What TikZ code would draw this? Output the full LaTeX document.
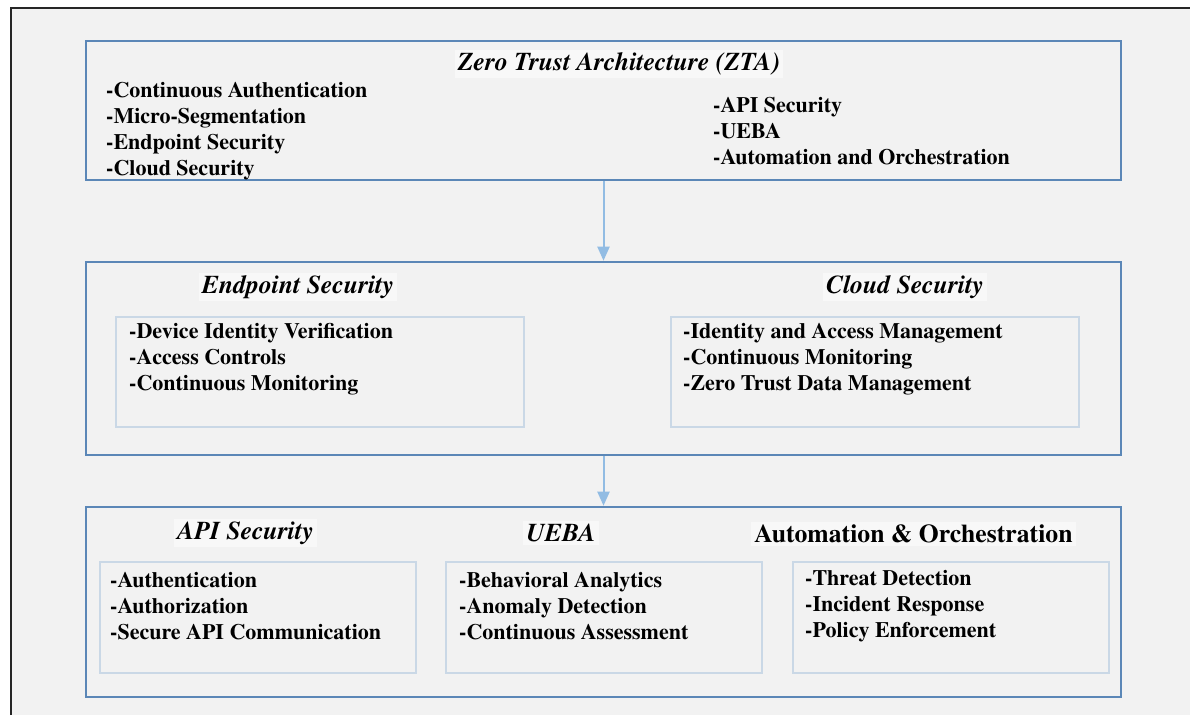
\documentclass[tikz,border=0pt]{standalone}
\usepackage[T1]{fontenc}
\renewcommand{\rmdefault}{ptm}
\usetikzlibrary{arrows.meta}
\definecolor{pagegray}{HTML}{F2F2F2}
\definecolor{frameblue}{HTML}{5B87B7}
\definecolor{innerblue}{HTML}{CAD8E6}
\definecolor{arrowblue}{HTML}{92BCE3}
\definecolor{titlebg}{HTML}{F8F8F8}
\begin{document}
\begin{tikzpicture}[x=1pt,y=-1pt,
  every node/.style={font=\fontsize{22}{26}\selectfont\bfseries, text=black},
  layerbox/.style={draw=frameblue, line width=2.6pt, fill=pagegray, minimum width=1035pt, inner sep=0pt},
  groupbox/.style={draw=innerblue, line width=1.6pt, fill=pagegray, inner sep=0pt},
  heading/.style={font=\fontsize{25.7}{30}\selectfont\bfseries\itshape, fill=titlebg, inner sep=3pt},
  plainheading/.style={font=\fontsize{25.7}{30}\selectfont\bfseries, fill=titlebg, inner sep=3pt},
  items/.style={align=left, anchor=west, inner sep=0pt},
  flow/.style={draw=arrowblue, line width=2pt, -{Triangle[width=12pt,length=14pt]}}
]
% page and frame
\useasboundingbox (0,0) rectangle (1190,715);
\fill[white] (0,0) rectangle (1190,715);
\fill[pagegray] (11,8) rectangle (1190,715);
\draw[black!85, line width=2.6pt] (11,715) -- (11,8) -- (1190,8);

% layer 1: Zero Trust Architecture
\node[layerbox, minimum height=139pt] (zta) at (603.5,110.5) {};
\node[heading] (ztaT) at (619,64) {Zero Trust Architecture (ZTA)};
\node[items] (ztaL) at (106,131) {-Continuous Authentication\\-Micro-Segmentation\\-Endpoint Security\\-Cloud Security};
\node[items] (ztaR) at (713,131) {-API Security\\-UEBA\\-Automation and Orchestration};

% layer 2: endpoint and cloud security
\node[layerbox, minimum height=193pt] (mid) at (603.5,358.5) {};
\node[groupbox, minimum width=408pt, minimum height=110pt] (endp) at (320,372) {};
\node[groupbox, minimum width=408pt, minimum height=110pt] (cloud) at (875,372) {};
\node[heading] (endpT) at (298,287) {Endpoint Security};
\node[heading] (cloudT) at (905,287) {Cloud Security};
\node[items] (endpL) at (129,359) {-Device Identity Verification\\-Access Controls\\-Continuous Monitoring};
\node[items] (cloudL) at (683,359) {-Identity and Access Management\\-Continuous Monitoring\\-Zero Trust Data Management};

% layer 3: API security, UEBA, automation
\node[layerbox, minimum height=190pt] (low) at (603.5,602) {};
\node[groupbox, minimum width=316pt, minimum height=111pt] (api) at (258,617.5) {};
\node[groupbox, minimum width=316pt, minimum height=111pt] (ueba) at (604,617.5) {};
\node[groupbox, minimum width=316pt, minimum height=111pt] (auto) at (951,617.5) {};
\node[heading] (apiT) at (245.5,533) {API Security};
\node[heading] (uebaT) at (561,533) {UEBA};
\node[plainheading] (autoT) at (913.5,534) {Automation \& Orchestration};
\node[items] (apiL) at (110,606) {-Authentication\\-Authorization\\-Secure API Communication};
\node[items] (uebaL) at (459,606) {-Behavioral Analytics\\-Anomaly Detection\\-Continuous Assessment};
\node[items] (autoL) at (805,606) {-Threat Detection\\-Incident Response\\-Policy Enforcement};

% flow between layers
\draw[flow] (zta.south) -- (mid.north);
\draw[flow] (mid.south) -- (low.north);
\end{tikzpicture}
\end{document}
